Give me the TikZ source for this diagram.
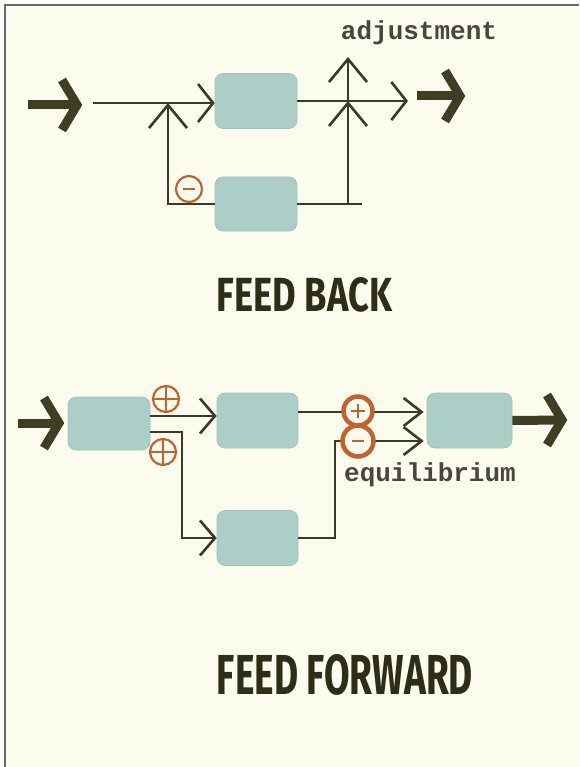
\documentclass[tikz,border=0pt]{standalone}
\usepackage{fontspec}
\usepackage{graphicx}
\usetikzlibrary{arrows.meta,calc}
\newfontfamily\typefont{Liberation Mono}
\newfontfamily\titlefont{Fira Sans}
\definecolor{bg}{HTML}{FBFBEE}
\definecolor{framec}{HTML}{6A6A66}
\definecolor{boxc}{HTML}{ABCFC6}
\definecolor{boxe}{HTML}{9EC4BA}
\definecolor{linec}{HTML}{3B3A22}
\definecolor{bigc}{HTML}{3F3E22}
\definecolor{orc}{HTML}{C4622C}
\definecolor{lblc}{HTML}{4A463E}
\definecolor{titlec}{HTML}{2E2D15}
\begin{document}
\begin{tikzpicture}[x=1pt,y=-1pt,
  box/.style={rectangle, rounded corners=8pt, fill=boxc, draw=boxe, line width=0.6pt,
    minimum width=82pt, minimum height=55pt, inner sep=0pt},
  wire/.style={draw=linec, line width=2.6pt},
  rarr/.style={wire, -{Straight Barb[length=15pt,width=38pt]}},
  uarr/.style={wire, -{Straight Barb[length=23pt,width=38pt]}},
  farr/.style={wire, -{Straight Barb[length=15pt,width=35pt]}},
  zarr/.style={wire, shorten >=3pt, -{Straight Barb[length=18pt,width=28pt]}},
  sgn/.style={circle, draw=orc, fill=bg, inner sep=0pt, minimum size=26pt, line width=2.2pt},
  signbar/.style={draw=orc, line width=2.2pt},
  bigshaft/.style={draw=bigc, line width=9pt, line cap=butt},
  lbl/.style={text=lblc, font=\typefont\bfseries\fontsize{26}{26}\selectfont, inner sep=0pt},
  ttl/.style={text=titlec, font=\titlefont\bfseries, inner sep=0pt},
  chev/.pic={\draw[draw=bigc, line width=9pt, line join=miter, line cap=butt]
    (-20,-25) -- (-5,0) -- (-20,25);}
]
\useasboundingbox (0,0) rectangle (579,767);
\fill[white] (0,0) rectangle (579,767);
\fill[bg] (5,5) rectangle (579,767);
\draw[framec, line width=1.5pt] (5,767) -- (5,5) -- (579,5);

% ---------------- FEED BACK ----------------
\node[box] (fbA) at (256,101) {};
\node[box, minimum height=54pt] (fbB) at (256,204) {};

\coordinate (fbInS) at (28,105);
\coordinate (fbInT) at (82,105);
\draw[bigshaft] (fbInS) -- ([xshift=-5pt]fbInT);
\pic at (fbInT) {chev};

\coordinate (fbL) at (93,103);
\draw[rarr] (fbL) -- (fbL -| fbA.west);
\coordinate (fbJ1) at (168,103);
\draw[uarr] (fbB.west) -| (fbJ1);
\node[sgn] (fbM) at (189,189) {};
\draw[signbar] ([xshift=-6pt]fbM.center) -- ([xshift=6pt]fbM.center);

\coordinate (fbOut) at (408,101);
\draw[rarr] (fbA.east) -- (fbOut);
\coordinate (fbJ2) at (348,101);
\coordinate (fbBR) at (362,204);
\draw[wire] (fbB.east) -- (fbBR);
\draw[uarr] (fbJ2 |- fbB.east) -- (fbJ2);
\coordinate (fbAdj) at (348,57);
\draw[uarr] (fbJ2) -- (fbAdj);
\node[lbl] (adj) at (419,33) {adjustment};

\coordinate (fbOutS) at (417,96);
\coordinate (fbOutT) at (465,96);
\draw[bigshaft] (fbOutS) -- ([xshift=-5pt]fbOutT);
\pic at (fbOutT) {chev};

\node[ttl] (fbTitle) at (304.5,294.5) {\resizebox{175pt}{34pt}{FEED BACK}};

% ---------------- FEED FORWARD ----------------
\node[box, minimum height=53pt] (ff1) at (109,423.5) {};
\node[box, minimum width=81pt] (ff2) at (257.5,420.5) {};
\node[box, minimum width=81pt] (ff3) at (257.5,538) {};
\node[box, minimum width=85pt] (ff4) at (469.5,420.5) {};

\coordinate (ffInS) at (18,423);
\coordinate (ffInT) at (64,423);
\draw[bigshaft] (ffInS) -- ([xshift=-5pt]ffInT);
\pic at (ffInT) {chev};

\coordinate (ffT) at (150,416);
\draw[farr] (ff1.east |- ffT) -- (ff2.west |- ffT);
\coordinate (ffK) at (182,432);
\draw[farr] (ff1.east |- ffK) -- (ffK) |- (ff3.west);

\node[sgn] (ffP1) at (166,399) {};
\draw[signbar] (ffP1.north) -- (ffP1.south) (ffP1.west) -- (ffP1.east);
\node[sgn] (ffP2) at (163,452) {};
\draw[signbar] (ffP2.north) -- (ffP2.south) (ffP2.west) -- (ffP2.east);

\coordinate (ffU) at (358,412);
\draw[zarr] (ff2.east |- ffU) -- (ff4.west |- ffU);
\coordinate (ffV) at (335,441);
\draw[zarr] (ff3.east) -| (ffV) -- (ff4.west |- ffV);

\node[sgn, minimum size=29pt, line width=4.5pt] (ffQ1) at (358,411) {};
\node[sgn, minimum size=31pt, line width=4.5pt] (ffQ2) at (358,441) {};
\draw[signbar, line width=2.6pt] ([xshift=-7pt]ffQ1.center) -- ([xshift=7pt]ffQ1.center)
  ([yshift=-7pt]ffQ1.center) -- ([yshift=7pt]ffQ1.center);
\draw[signbar, line width=2.6pt] ([xshift=-6pt]ffQ2.center) -- ([xshift=6pt]ffQ2.center);

\node[lbl] (equ) at (430,475) {equilibrium};

\coordinate (ffOutT) at (567,420);
\draw[bigshaft] (ff4.east) -- ([xshift=-5pt]ffOutT);
\pic at (ffOutT) {chev};

\node[ttl] (ffTitle) at (345,675) {\resizebox{256pt}{40pt}{FEED FORWARD}};
\end{tikzpicture}
\end{document}
